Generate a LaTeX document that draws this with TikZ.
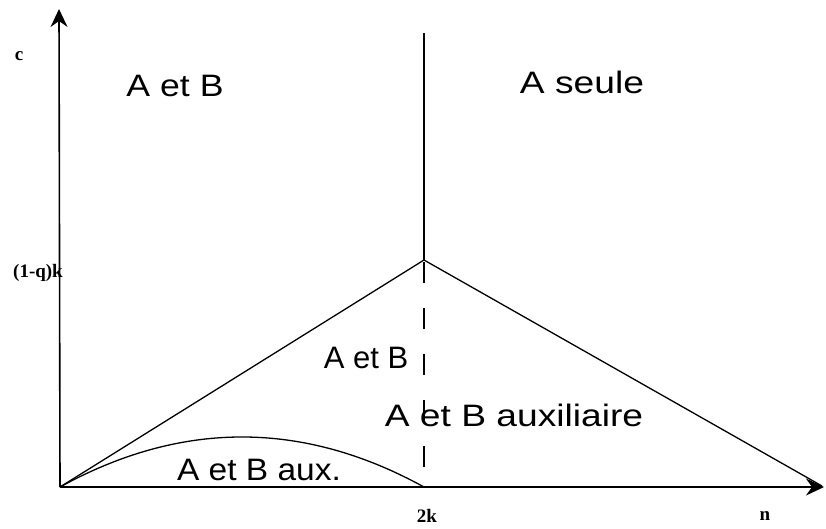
\documentclass[tikz,border=0pt]{standalone}
\usepackage{fontspec}
\usepackage{graphicx}
\setmainfont{Liberation Serif}
\newfontfamily\handfont{Liberation Sans}
\usetikzlibrary{arrows.meta}
\tikzset{
  axis/.style={line width=1.6pt, -{Stealth[length=18pt,width=17pt,inset=6pt]}},
  curve/.style={line width=1.3pt},
  dashline/.style={line width=2.2pt, dash pattern=on 21pt off 25pt},
  axlabel/.style={inner sep=0pt, font=\fontsize{19}{19}\selectfont\bfseries},
  hand/.style={inner sep=0pt, font=\handfont\fontsize{31}{31}\selectfont}
}
\begin{document}
\begin{tikzpicture}[x=1pt,y=-1pt]
\useasboundingbox (0,0) rectangle (826,528);
\coordinate (O) at (60,487);
\coordinate (Y) at (59,9);
\coordinate (X) at (824,487);
\coordinate (P) at (424,260);
\coordinate (T) at (424,33);
\coordinate (K) at (424,487);
\coordinate (R) at (822,486);
% axes
\draw[axis] (O) -- (Y);
\draw[axis] (O) -- (X);
% lines
\draw[curve] (O) -- (P) -- (R);
\draw[curve] (P) -- (T);
\draw[dashline] (424,262) -- (K);
\draw[curve] (O) .. controls (181.3,420.3) and (302.7,420.3) .. (K);
% axis labels
\node[axlabel] (c) at (19,56) {c};
\node[axlabel, anchor=east] (q) at (63,273) {(1-q)k};
\node[axlabel] (k2) at (427,516) {2k};
\node[axlabel] (n) at (765,516) {n};
% region labels
\node[hand] (ab1) at (175,86) {\scalebox{1.15}[1]{A et B}};
\node[hand] (as) at (582,82) {\scalebox{1.2}[1]{A seule}};
\node[hand] (ab2) at (366,358) {\scalebox{1.0}[1]{A et B}};
\node[hand] (aba) at (514,415) {\scalebox{1.2}[1]{A et B auxiliaire}};
\node[hand] (abx) at (259,470) {\scalebox{1.08}[1]{A et B aux.}};
\end{tikzpicture}
\end{document}
